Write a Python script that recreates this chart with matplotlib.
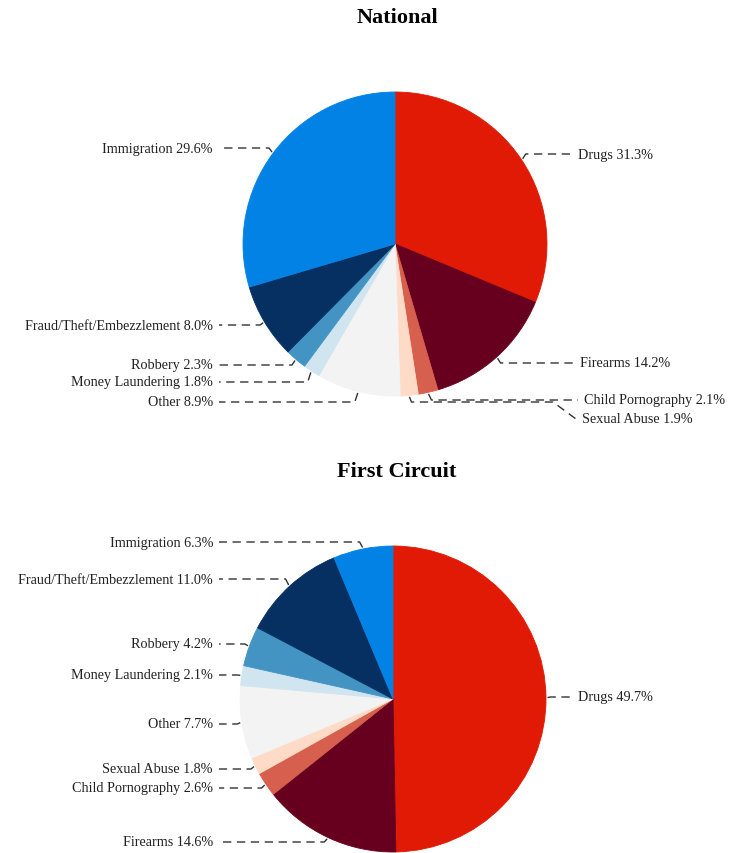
import math
from matplotlib import pyplot as plt

plt.rcParams['font.family'] = ['Liberation Serif', 'DejaVu Serif']

categories = ["Drugs", "Firearms", "Child Pornography", "Sexual Abuse", "Other",
              "Money Laundering", "Robbery", "Fraud/Theft/Embezzlement", "Immigration"]
national = [31.3, 14.2, 2.1, 1.9, 8.9, 1.8, 2.3, 8.0, 29.6]
first_circuit = [49.7, 14.6, 2.6, 1.8, 7.7, 2.1, 4.2, 11.0, 6.3]
colors = ["#E01A04", "#67001F", "#D6604D", "#FDDBC7", "#F3F3F3",
          "#D1E5F0", "#4393C3", "#053061", "#0382E6"]

W, H = 730, 854

# label layout in pixels (y from top): (side, text x, text y, [elbow y, knee x])
national_labels = {
    "Drugs": ("r", 578, 155),
    "Firearms": ("r", 580, 364),
    "Child Pornography": ("r", 584, 401),
    "Sexual Abuse": ("r", 582, 420, 403, 553),
    "Other": ("l", 213, 403),
    "Money Laundering": ("l", 213, 383),
    "Robbery": ("l", 213, 366),
    "Fraud/Theft/Embezzlement": ("l", 213, 326),
    "Immigration": ("l", 213, 149),
}
first_labels = {
    "Drugs": ("r", 578, 698),
    "Firearms": ("l", 213, 843),
    "Child Pornography": ("l", 213, 789),
    "Sexual Abuse": ("l", 213, 770),
    "Other": ("l", 213, 725),
    "Money Laundering": ("l", 213, 676),
    "Robbery": ("l", 213, 645),
    "Fraud/Theft/Embezzlement": ("l", 213, 580),
    "Immigration": ("l", 213, 543),
}

fig = plt.figure(figsize=(7.3, 8.54), dpi=100)
ax = fig.add_axes([0, 0, 1, 1])

line_kw = dict(color="#333333", lw=1.0, ls=(0, (6, 4)))


def draw_pie(values, cx, cy, r, labels, title, title_y):
    wedges, _ = ax.pie(values, colors=colors, startangle=90, counterclock=False,
                       center=(cx, H - cy), radius=r)
    for w in wedges:
        # same-colour edge hides the thin antialiasing seams between wedges
        w.set_edgecolor(w.get_facecolor())
        w.set_linewidth(0.6)
    ax.text(397, H - title_y, title, ha="center", va="center",
            fontsize=16, fontweight="bold")
    total = sum(values)
    start = 0.0
    for name, v in zip(categories, values):
        mid = (start + v / 2) / total * 2 * math.pi
        start += v
        ex = cx + r * 1.01 * math.sin(mid)
        ey = cy - r * 1.01 * math.cos(mid)
        spec = labels[name]
        side, tx, ty = spec[0], spec[1], spec[2]
        sign = 1 if side == "r" else -1
        gap = 6
        if len(spec) > 3:
            ely, kx = spec[3], spec[4]
            xs = [ex, ex + sign * 2, kx, tx - sign * gap]
            ys = [ey, ely, ely, ty]
        else:
            xs = [ex, ex + sign * 3, tx - sign * gap]
            ys = [ey, ty, ty]
        ax.plot(xs, [H - y for y in ys], **line_kw)
        ax.text(tx, H - ty, f"{name} {v:.1f}%", ha="left" if side == "r" else "right",
                va="center", fontsize=10.2, color="#222222")


draw_pie(national, 395, 245, 152, national_labels, "National", 18)
draw_pie(first_circuit, 393, 700, 153, first_labels, "First Circuit", 472)

ax.set_aspect("auto")
ax.set_xlim(0, W)
ax.set_ylim(0, H)
ax.axis("off")

fig.savefig("out.png", dpi=100)
